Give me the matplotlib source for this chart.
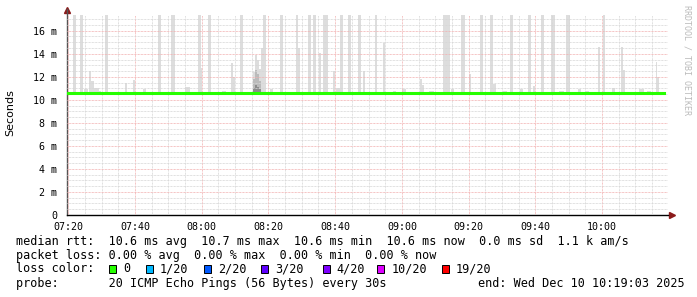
import numpy as np
import matplotlib
matplotlib.use("Agg")
import matplotlib.pyplot as plt
from matplotlib.patches import Rectangle

# time axis in minutes of the day
t_start = 439.55
t_end = 619.75
data_end = 618.5

# median rtt (ms): base level with short dips
median_base = 10.62
median_dip = 10.57
dip_start = [442.0, 453.4, 459.1, 470.5, 484.0, 493.0, 500.2, 517.3, 525.4,
             540.9, 547.5, 561.0, 574.5, 591.3, 603.8, 610.7]
dip_end = [443.2, 457.3, 460.6, 473.5, 489.1, 493.9, 505.6, 518.5, 527.5,
           545.4, 557.4, 570.0, 580.5, 597.3, 606.2, 617.3]

# smoke spikes: start (min), duration (min), max rtt (ms); 18 = off scale
smoke_t = [441.4, 443.5, 451.0, 466.9, 470.8, 478.9, 481.9, 491.5, 498.4,
           503.5, 508.3, 511.9, 513.4, 516.4, 521.4, 523.8, 526.8, 531.9,
           552.3, 557.7, 563.4, 566.4, 572.4, 577.8, 581.7, 584.7, 589.2,
           600.3,
           446.2, 446.8, 457.0, 459.4, 479.8, 488.8, 489.4, 495.4, 495.9,
           496.5, 497.1, 497.8, 509.0, 515.2, 519.4, 528.4, 534.4, 545.4,
           546.0, 560.1, 567.3, 579.3, 598.8, 605.8, 606.4, 616.3, 616.6,
           444.8, 447.6, 449.0, 462.3, 475.0, 486.0, 500.5, 520.4, 537.2,
           540.0, 548.0, 554.6, 570.3, 575.4, 587.2, 592.8, 595.0, 603.0,
           611.0, 613.6]
smoke_w = [0.9, 0.9, 0.9, 0.9, 1.2, 0.9, 0.9, 0.9, 0.9,
           0.9, 0.6, 0.9, 0.9, 1.5, 0.9, 0.9, 0.9, 0.6,
           2.1, 1.2, 0.9, 0.9, 0.9, 0.9, 0.9, 1.2, 1.2,
           0.6,
           0.6, 0.9, 0.6, 0.6, 0.3, 0.6, 0.6, 0.6, 0.6,
           0.6, 0.6, 0.6, 0.6, 0.6, 0.6, 0.6, 0.6, 0.6,
           0.6, 0.6, 0.9, 0.6, 0.6, 0.6, 0.6, 0.3, 0.6,
           1.2, 1.5, 0.9, 0.9, 1.5, 1.2, 0.9, 1.2, 0.9,
           1.2, 1.5, 0.9, 1.2, 0.9, 1.5, 0.9, 1.2, 0.9,
           1.5, 1.2]
smoke_top = [18, 18, 18, 18, 18, 18, 18, 18, 18,
             18, 18, 18, 18, 18, 18, 18, 18, 18,
             18, 18, 18, 18, 18, 18, 18, 18, 18,
             18,
             12.5, 11.6, 11.5, 11.7, 12.8, 13.2, 12.0, 12.4, 13.9,
             13.5, 12.7, 14.5, 14.5, 14.1, 12.5, 12.5, 14.9, 11.8,
             11.3, 12.2, 11.4, 11.2, 14.6, 14.6, 12.6, 13.3, 12.0,
             10.9, 11.0, 10.8, 10.9, 11.1, 10.8, 10.9, 11.0, 10.8,
             10.9, 10.8, 10.9, 10.8, 10.9, 10.8, 10.9, 10.8, 11.0,
             10.9, 10.8]

# denser pings around 08:15
dense_t = [495.4, 495.9, 496.5, 497.1]
dense_top = [11.8, 12.6, 12.2, 11.6]
dense_core = [11.0, 11.3, 11.1, 10.9]

y_ticks = [0, 2, 4, 6, 8, 10, 12, 14, 16]
y_labels = ["0", "2 m", "4 m", "6 m", "8 m", "10 m", "12 m", "14 m", "16 m"]
x_ticks = [440, 460, 480, 500, 520, 540, 560, 580, 600]
x_labels = ["07:20", "07:40", "08:00", "08:20", "08:40", "09:00", "09:20",
            "09:40", "10:00"]

loss_labels = ["0", "1/20", "2/20", "3/20", "4/20", "10/20", "19/20"]
loss_colors = ["#26ff00", "#00b8ff", "#0059ff", "#5e00ff", "#7e00ff",
               "#dd00ff", "#ff0000"]
loss_box_x = [109, 145.7, 204, 261, 322.7, 377.3, 441.7]

W, H = 697, 297
fig = plt.figure(figsize=(W / 100, H / 100), dpi=100)
ax = fig.add_axes([66.7 / W, (H - 215) / H, (668 - 66.7) / W, (215 - 14.6) / H])

# smoke
for t, w, top in zip(smoke_t, smoke_w, smoke_top):
    ax.bar(t, top - median_base, bottom=median_base, width=w, align="edge",
           color="#dddddd", linewidth=0, zorder=1)
for t, top, core in zip(dense_t, dense_top, dense_core):
    ax.bar(t, top - median_base, bottom=median_base, width=0.6, align="edge",
           color="#bbbbbb", linewidth=0, zorder=1.1)
    ax.bar(t, core - median_base, bottom=median_base, width=0.6, align="edge",
           color="#8c8c8c", linewidth=0, zorder=1.2)

# median line
mt = [t_start]
mv = [median_base]
for s, e in zip(dip_start, dip_end):
    mt += [s, e]
    mv += [median_dip, median_base]
mt.append(data_end)
mv.append(median_base)
ax.step(mt, mv, where="post", color="#26ff00", linewidth=2.2, zorder=3)

ax.set_xlim(t_start, t_end)
ax.set_ylim(0, 17.4)

ax.set_xticks(x_ticks)
ax.set_xticklabels(x_labels)
ax.set_xticks(np.arange(440, 620, 5), minor=True)
ax.set_yticks(y_ticks)
ax.set_yticklabels(y_labels)
ax.set_yticks(np.arange(0, 17.5, 0.5), minor=True)

ax.tick_params(which="both", length=0)
ax.tick_params(axis="x", pad=5, labelsize=7.2)
ax.tick_params(axis="y", pad=7, labelsize=7.2)
for lab in ax.get_xticklabels() + ax.get_yticklabels():
    lab.set_family("DejaVu Sans Mono")

ax.set_axisbelow(False)
ax.grid(which="minor", color="#d6d6d6", linewidth=0.72,
        linestyle=(0, (0.72, 0.72)), zorder=2)
ax.grid(which="major", color="#f2b0b0", linewidth=0.72,
        linestyle=(0, (0.72, 0.72)), zorder=2)

for s in ["top", "right"]:
    ax.spines[s].set_visible(False)
ax.spines["left"].set_color("#555555")
ax.spines["bottom"].set_color("#000000")
ax.spines["left"].set_linewidth(1.0)
ax.spines["bottom"].set_linewidth(1.0)
ax.spines["left"].set_bounds(0, 17.9)

# axis arrows
ax.plot([0], [1.025], marker="^", color="#8b1a1a", markersize=4,
        transform=ax.transAxes, clip_on=False)
ax.plot([1.0066], [0], marker=">", color="#8b1a1a", markersize=4,
        transform=ax.transAxes, clip_on=False)

fig.text(10 / W, 1 - 113 / H, "Seconds", rotation=90, ha="center",
         va="center", fontsize=8, family="DejaVu Sans")
fig.text(687 / W, 1 - 5 / H, "RRDTOOL / TOBI OETIKER", rotation=-90,
         ha="center", va="top", fontsize=6, color="#bbbbbb",
         family="DejaVu Sans Mono")

mono = dict(family="DejaVu Sans Mono", fontsize=8.5, va="center")
fig.text(16 / W, 1 - 241 / H,
         "median rtt:  10.6 ms avg  10.7 ms max  10.6 ms min  10.6 ms now"
         "  0.0 ms sd  1.1 k am/s", **mono)
fig.text(16 / W, 1 - 255.5 / H,
         "packet loss: 0.00 % avg  0.00 % max  0.00 % min  0.00 % now", **mono)
fig.text(16 / W, 1 - 269 / H, "loss color:", **mono)
for bx, lab, col in zip(loss_box_x, loss_labels, loss_colors):
    fig.patches.append(Rectangle((bx / W, 1 - 273 / H), 7 / W, 8 / H,
                                 transform=fig.transFigure, facecolor=col,
                                 edgecolor="black", linewidth=0.7))
    fig.text((bx + 14) / W, 1 - 269 / H, lab, **mono)
fig.text(16 / W, 1 - 283.5 / H,
         "probe:       20 ICMP Echo Pings (56 Bytes) every 30s", **mono)
fig.text(478.3 / W, 1 - 283.5 / H, "end: Wed Dec 10 10:19:03 2025", **mono)

fig.savefig("out.png", dpi=100)
